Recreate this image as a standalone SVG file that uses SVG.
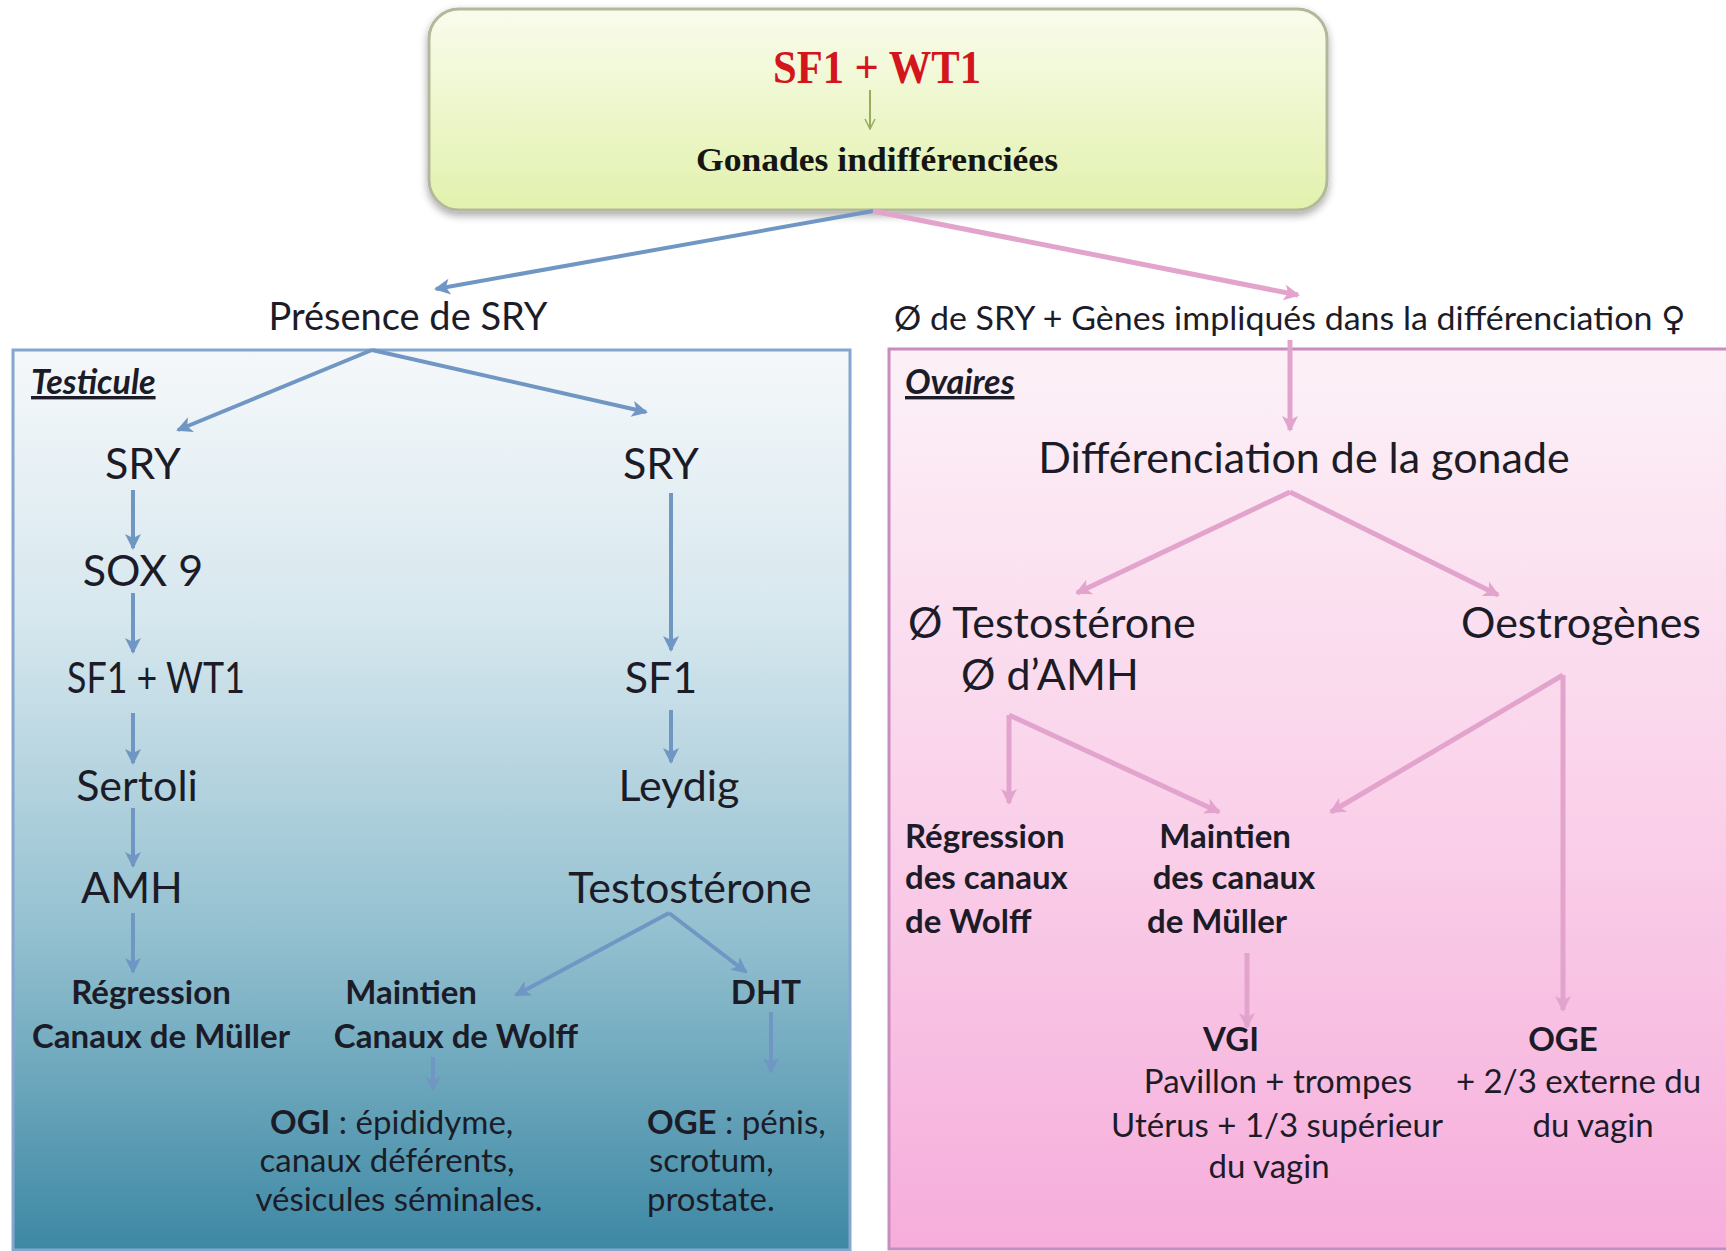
<svg xmlns="http://www.w3.org/2000/svg" width="1726" height="1251" viewBox="0 0 1726 1251">
<defs>
<linearGradient id="gTop" x1="0" y1="0" x2="0" y2="1">
<stop offset="0" stop-color="#f9fcec"/>
<stop offset="1" stop-color="#e2f1ad"/>
</linearGradient>
<linearGradient id="gBlue" x1="0" y1="0" x2="0" y2="1">
<stop offset="0" stop-color="#f5f8fa"/>
<stop offset="0.3" stop-color="#d6e7ee"/>
<stop offset="0.65" stop-color="#93c0d0"/>
<stop offset="1" stop-color="#3d88a4"/>
</linearGradient>
<linearGradient id="gPink" x1="0" y1="0" x2="0" y2="1">
<stop offset="0" stop-color="#fcf1f7"/>
<stop offset="0.5" stop-color="#fad2ea"/>
<stop offset="1" stop-color="#f6addb"/>
</linearGradient>
<filter id="sh" x="-5%" y="-10%" width="110%" height="130%">
<feGaussianBlur in="SourceAlpha" stdDeviation="4"/>
<feOffset dx="0" dy="4"/>
<feComponentTransfer><feFuncA type="linear" slope="0.35"/></feComponentTransfer>
<feMerge><feMergeNode/><feMergeNode in="SourceGraphic"/></feMerge>
</filter>
<marker id="aB" markerUnits="userSpaceOnUse" markerWidth="20" markerHeight="20" viewBox="0 0 20 20" refX="16" refY="10" orient="auto">
<path d="M2,2 L18,10 L2,18 L6,10 Z" fill="#7096c4"/>
</marker>
<marker id="aP" markerUnits="userSpaceOnUse" markerWidth="20" markerHeight="20" viewBox="0 0 20 20" refX="16" refY="10" orient="auto">
<path d="M2,2 L18,10 L2,18 L6,10 Z" fill="#e2a4cd"/>
</marker>
<marker id="aG" markerUnits="userSpaceOnUse" markerWidth="12" markerHeight="12" viewBox="0 0 12 12" refX="10" refY="6" orient="auto">
<path d="M1,1 L11,6 L1,11" fill="none" stroke="#98ad5c" stroke-width="1.5"/>
</marker>
</defs>
<style>
.t{font-family:Lato,"Open Sans","DejaVu Sans",sans-serif;fill:#1c1c28}
.big{font-size:43px}
.mid{font-size:38px}
.sm{font-size:33px}
.b{font-weight:bold}
.hd{font-size:34px;font-weight:bold;font-style:italic;text-decoration:underline}
.c{text-anchor:middle}
.blue{stroke:#7096c4;stroke-width:4;fill:none;marker-end:url(#aB)}
.pink{stroke:#e2a4cd;stroke-width:5;fill:none;marker-end:url(#aP)}
.serif{font-family:"Liberation Serif","Times New Roman",serif;font-weight:bold}
</style>
<rect width="1726" height="1251" fill="#ffffff"/>

<g id="panel-testicule">
<rect x="13" y="350" width="837" height="900" fill="url(#gBlue)" stroke="#87a6cf" stroke-width="3"/>
<text class="t hd" x="31" y="394">Testicule</text>
</g>
<g id="panel-ovaires">
<rect x="889" y="349" width="850" height="900" fill="url(#gPink)" stroke="#c98cbf" stroke-width="3"/>
<text class="t hd" x="905" y="394">Ovaires</text>
</g>

<g id="node-top">
<rect x="429" y="9" width="898" height="201" rx="30" fill="url(#gTop)" stroke="#b3b79c" stroke-width="3" filter="url(#sh)"/>
<text class="serif c" x="877" y="83" font-size="46" fill="#d2161c" textLength="208" lengthAdjust="spacingAndGlyphs">SF1 + WT1</text>
<line x1="870" y1="90" x2="870" y2="128" stroke="#98ad5c" stroke-width="2" marker-end="url(#aG)"/>
<text class="serif c" x="877" y="171" font-size="33" fill="#151515" textLength="362" lengthAdjust="spacingAndGlyphs">Gonades indifférenciées</text>
</g>

<g id="node-presence"><text class="t mid c" x="408" y="330">Présence de SRY</text></g>
<g id="node-absence"><text class="t" x="894" y="330" font-size="33" textLength="792" lengthAdjust="spacingAndGlyphs">Ø de SRY + Gènes impliqués dans la différenciation ♀</text></g>

<g id="node-sry1"><text class="t big c" x="143" y="479">SRY</text></g>
<g id="node-sry2"><text class="t big c" x="661" y="479">SRY</text></g>
<g id="node-sox9"><text class="t big c" x="143" y="586">SOX 9</text></g>
<g id="node-sf1wt1"><text class="t big c" x="156" y="693" textLength="178" lengthAdjust="spacingAndGlyphs">SF1 + WT1</text></g>
<g id="node-sf1"><text class="t big c" x="661" y="693">SF1</text></g>
<g id="node-sertoli"><text class="t big c" x="137" y="801">Sertoli</text></g>
<g id="node-leydig"><text class="t big c" x="679" y="801">Leydig</text></g>
<g id="node-amh"><text class="t big c" x="132" y="903">AMH</text></g>
<g id="node-testo"><text class="t big c" x="690" y="903">Testostérone</text></g>
<g id="node-regm">
<text class="t sm b c" x="151" y="1004">Régression</text>
<text class="t sm b c" x="161" y="1048">Canaux de Müller</text>
</g>
<g id="node-maintw">
<text class="t sm b c" x="411" y="1004">Maintien</text>
<text class="t sm b c" x="456" y="1048">Canaux de Wolff</text>
</g>
<g id="node-dht"><text class="t sm b c" x="766" y="1004">DHT</text></g>
<g id="node-ogi">
<text class="t sm" x="270" y="1134"><tspan class="b">OGI</tspan> : épididyme,</text>
<text class="t sm c" x="387" y="1172">canaux déférents,</text>
<text class="t sm c" x="399" y="1211">vésicules séminales.</text>
</g>
<g id="node-oge-m">
<text class="t sm" x="647" y="1134"><tspan class="b">OGE</tspan> : pénis,</text>
<text class="t sm" x="649" y="1172">scrotum,</text>
<text class="t sm" x="647" y="1211">prostate.</text>
</g>

<g id="node-diff"><text class="t big c" x="1304" y="473">Différenciation de la gonade</text></g>
<g id="node-notesto">
<text class="t big" x="908" y="638">Ø  Testostérone</text>
<text class="t big" x="961" y="690">Ø d’AMH</text>
</g>
<g id="node-oestro"><text class="t big c" x="1581" y="638">Oestrogènes</text></g>
<g id="node-regw">
<text class="t sm b" x="905" y="848">Régression</text>
<text class="t sm b" x="905" y="889">des canaux</text>
<text class="t sm b" x="905" y="933">de Wolff</text>
</g>
<g id="node-maintm">
<text class="t sm b c" x="1225" y="848">Maintien</text>
<text class="t sm b c" x="1234" y="889">des canaux</text>
<text class="t sm b c" x="1217" y="933">de Müller</text>
</g>
<g id="node-vgi">
<text class="t sm b c" x="1231" y="1051">VGI</text>
<text class="t sm c" x="1278" y="1093">Pavillon + trompes</text>
<text class="t sm c" x="1277" y="1137">Utérus + 1/3 supérieur</text>
<text class="t sm c" x="1269" y="1178">du vagin</text>
</g>
<g id="node-oge-f">
<text class="t sm b c" x="1563" y="1051">OGE</text>
<text class="t sm" x="1456" y="1093">+ 2/3 externe du</text>
<text class="t sm c" x="1593" y="1137">du vagin</text>
</g>

<g id="connectors">
<line class="blue" x1="873" y1="211" x2="436" y2="289"/>
<line class="blue" x1="372" y1="350" x2="178" y2="430"/>
<line class="blue" x1="372" y1="350" x2="646" y2="412"/>
<line class="blue" x1="133" y1="490" x2="133" y2="548"/>
<line class="blue" x1="133" y1="593" x2="133" y2="652"/>
<line class="blue" x1="133" y1="713" x2="133" y2="763"/>
<line class="blue" x1="133" y1="808" x2="133" y2="866"/>
<line class="blue" x1="671" y1="493" x2="671" y2="650"/>
<line class="blue" x1="671" y1="710" x2="671" y2="762"/>
<line class="blue" x1="133" y1="913" x2="133" y2="972"/>
<line class="blue" x1="669" y1="913" x2="516" y2="995"/>
<line class="blue" x1="669" y1="913" x2="746" y2="972"/>
<line class="blue" x1="433" y1="1057" x2="433" y2="1090"/>
<line class="blue" x1="771" y1="1012" x2="771" y2="1072"/>
<line class="pink" x1="873" y1="211" x2="1298" y2="295"/>
<line class="pink" x1="1290" y1="340" x2="1290" y2="430"/>
<line class="pink" x1="1290" y1="492" x2="1077" y2="593"/>
<line class="pink" x1="1290" y1="492" x2="1498" y2="595"/>
<line class="pink" x1="1009" y1="715" x2="1009" y2="803"/>
<line class="pink" x1="1009" y1="715" x2="1219" y2="812"/>
<line class="pink" x1="1563" y1="675" x2="1331" y2="812"/>
<line class="pink" x1="1563" y1="675" x2="1563" y2="1010"/>
<line class="pink" x1="1247" y1="953" x2="1247" y2="1027"/>
</g>
</svg>
